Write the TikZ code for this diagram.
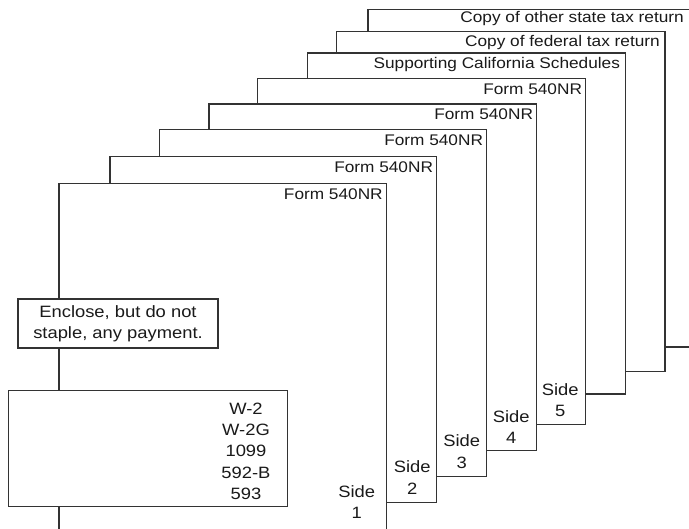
\documentclass[tikz,border=0pt]{standalone}
\usepackage{fontspec}
\setmainfont{Liberation Sans}[FakeStretch=1.12]
\definecolor{linec}{HTML}{333333}
\definecolor{textc}{HTML}{1A1A1A}
\tikzset{
  pagebox/.style={draw=linec, fill=white, line width=1.2pt, inner sep=0pt, anchor=north west},
  infobox/.style={draw=linec, fill=white, line width=1.2pt, inner sep=0pt},
  pagelabel/.style={text=textc, inner sep=0pt, anchor=base east, font=\fontsize{15.4}{20}\selectfont},
  bigtext/.style={text=textc, inner sep=0pt, align=center, font=\fontsize{16.4}{21.4}\selectfont},
  sidelabel/.style={bigtext, anchor=south}
}
\begin{document}
\begin{tikzpicture}[x=1pt,y=-1pt]
\useasboundingbox (0,0) rectangle (689,529);
% pages, back to front
\node[pagebox, minimum width=332.7pt, minimum height=337.5pt] (p8) at (367.3,9) {};
\node[pagebox, minimum width=328.3pt, minimum height=339.4pt] (p7) at (336,31.3) {};
\node[pagebox, minimum width=317.5pt, minimum height=341pt] (p6) at (307,52.5) {};
\node[pagebox, minimum width=328pt, minimum height=345.7pt] (p5) at (257,78.3) {};
\node[pagebox, minimum width=327.7pt, minimum height=346.5pt] (p4) at (208.3,103.5) {};
\node[pagebox, minimum width=327pt, minimum height=346.7pt] (p3) at (159,129.3) {};
\node[pagebox, minimum width=326.7pt, minimum height=346.6pt] (p2) at (109.3,155.7) {};
\node[pagebox, minimum width=327.4pt, minimum height=360pt] (p1) at (58.3,183.3) {};
% page titles
\node[pagelabel] (t8) at (684,23) {Copy of other state tax return};
\node[pagelabel] (t7) at ([xshift=-5.5pt,yshift=-15.3pt]p7.north east) {Copy of federal tax return};
\node[pagelabel] (t6) at ([xshift=-5.5pt,yshift=-16pt]p6.north east) {Supporting California Schedules};
\node[pagelabel] (t5) at ([xshift=-4pt,yshift=-16.5pt]p5.north east) {Form 540NR};
\node[pagelabel] (t4) at ([xshift=-4pt,yshift=-16.5pt]p4.north east) {Form 540NR};
\node[pagelabel] (t3) at ([xshift=-4pt,yshift=-16.5pt]p3.north east) {Form 540NR};
\node[pagelabel] (t2) at ([xshift=-4pt,yshift=-16.5pt]p2.north east) {Form 540NR};
\node[pagelabel] (t1) at ([xshift=-4pt,yshift=-16.7pt]p1.north east) {Form 540NR};
% side labels
\node[sidelabel] (s1) at (356.7,519) {Side\\1};
\node[sidelabel] (s2) at ([xshift=-25pt,yshift=9pt]p2.south east) {Side\\2};
\node[sidelabel] (s3) at ([xshift=-25.5pt,yshift=8.5pt]p3.south east) {Side\\3};
\node[sidelabel] (s4) at ([xshift=-26pt,yshift=7.5pt]p4.south east) {Side\\4};
\node[sidelabel] (s5) at ([xshift=-26pt,yshift=8pt]p5.south east) {Side\\5};
% enclose note
\node[infobox, minimum width=200pt, minimum height=49pt] (note) at (118,323.5) {};
\node[bigtext] (notetext) at (note.center) {Enclose, but do not\\staple, any payment.};
% payment box
\node[infobox, minimum width=279pt, minimum height=116pt] (pay) at (147.8,448.7) {};
\node[bigtext, anchor=south] (paytext) at (246,500) {W-2\\W-2G\\1099\\592-B\\593};
\end{tikzpicture}
\end{document}
